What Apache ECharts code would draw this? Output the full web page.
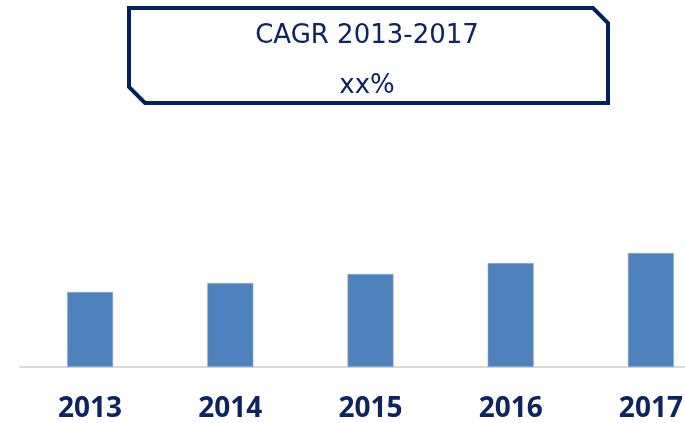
<!DOCTYPE html>
<html>
<head>
<meta charset="utf-8">
<script src="https://cdn.jsdelivr.net/npm/echarts@6/dist/echarts.min.js"></script>
<style>html,body{margin:0;padding:0;background:#fff;overflow:hidden;width:685px;height:423px}#c{width:721px;height:423px}</style>
</head>
<body>
<div id="c"></div>
<script>
const categories = ['2013', '2014', '2015', '2016', '2017'];
const values = [75, 84, 93, 104, 114];
const boxTitle = 'CAGR 2013-2017';
const boxValue = 'xx%';

const chart = echarts.init(document.getElementById('c'), null, {renderer: 'canvas'});
chart.setOption({
  animation: false,
  backgroundColor: '#ffffff',
  grid: {left: 20, right: 0, top: 167, bottom: 56, containLabel: false},
  xAxis: {
    type: 'category',
    data: categories,
    axisLine: {show: true, lineStyle: {color: '#d9d9d9', width: 2}},
    axisTick: {show: false},
    axisLabel: {
      color: '#0d2461',
      fontFamily: 'Noto Sans',
      fontWeight: 'bold',
      fontSize: 28,
      lineHeight: 28,
      margin: 28
    }
  },
  yAxis: {
    type: 'value', min: 0, max: 200,
    show: false,
    splitLine: {show: false}
  },
  series: [{
    type: 'bar',
    data: values,
    barWidth: 46,
    itemStyle: {color: '#4f81bd', borderColor: '#8eaedb', borderWidth: 0.6}
  }],
  graphic: [
    {
      type: 'polygon',
      shape: {points: [[129, 8], [593, 8], [608, 23], [608, 103], [145, 103], [129, 87]]},
      style: {fill: '#ffffff', stroke: '#002060', lineWidth: 4, lineJoin: 'miter'}
    },
    {
      type: 'text', x: 367, y: 36,
      style: {text: boxTitle, fill: '#0d2461', fontFamily: 'DejaVu Sans', fontSize: 26, align: 'center', verticalAlign: 'middle'}
    },
    {
      type: 'text', x: 367, y: 86,
      style: {text: boxValue, fill: '#0d2461', fontFamily: 'DejaVu Sans', fontSize: 26, align: 'center', verticalAlign: 'middle'}
    }
  ]
});
</script>
</body>
</html>
